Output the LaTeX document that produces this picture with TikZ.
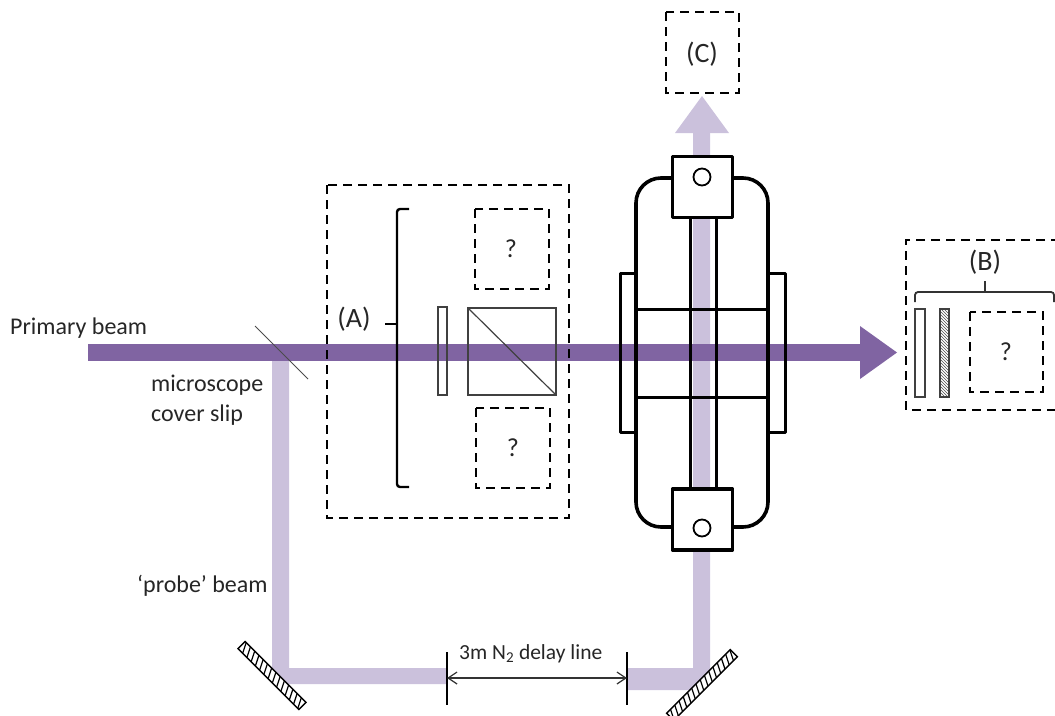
\documentclass[tikz,border=0pt]{standalone}
\usepackage{fontspec}
\setmainfont{Carlito}
\usetikzlibrary{arrows.meta,patterns}
\definecolor{primarybeam}{HTML}{8064A2}
\definecolor{probebeam}{HTML}{CBC1DC}
\tikzset{
  dashbox/.style={draw=black,line width=2.4pt,dash pattern=on 9pt off 6pt,line join=miter},
  thickline/.style={draw=black,line width=3.6pt,line join=round},
  flange/.style={draw=black,line width=3pt,line join=round},
  optic/.style={draw=black!75,line width=1.2pt},
  label/.style={font=\fontsize{24}{28}\selectfont,text=black!85,inner sep=0pt,anchor=base west},
  centrelabel/.style={font=\fontsize{28}{32}\selectfont,text=black!85,inner sep=0pt},
  qmark/.style={font=\fontsize{26}{30}\selectfont,text=black!85,inner sep=0pt},
  mirror/.style={draw=black,line width=1.4pt,fill=white},
  stripe/.style={draw=black,line width=1.2pt},
}
\begin{document}
\begin{tikzpicture}[x=1pt,y=-1pt]
\useasboundingbox (0,0) rectangle (1055,715);
% probe beam
\fill[probebeam] (272,361) -- (289,361) -- (289,668) -- (447,668) -- (447,684) -- (285,684) -- (272,670) -- cycle;
\fill[probebeam] (627,668) -- (693,668) -- (693,133) -- (710,133) -- (710,677) -- (697,690) -- (627,690) -- cycle;
\fill[probebeam] (702,96) -- (729,133) -- (675,133) -- cycle;
% interferometer body
\draw[flange] (636,273) -- (620,273) -- (620,432) -- (636,432);
\draw[flange] (768,273) -- (785,273) -- (785,432) -- (768,432);
\draw[thickline,rounded corners=25pt] (636,178) rectangle (768,527);
% primary beam
\fill[primarybeam] (88,344) rectangle (860,361);
\fill[primarybeam] (860,326) -- (897,352.5) -- (860,379) -- cycle;
% interferometer over beam
\draw[flange] (620,340) -- (620,365) (785,340) -- (785,365);
\draw[flange] (636,309) -- (768,309) (636,397) -- (768,397);
\draw[flange] (690,217) -- (690,489) (716,217) -- (716,489);
\draw[thickline] (636,230) -- (636,480) (768,230) -- (768,480);
\draw[thickline,fill=white] (672.5,156.5) rectangle (732.5,217.5);
\draw[thickline,fill=white] (672.5,489) rectangle (732.5,550);
\node[draw=black,line width=1.8pt,circle,minimum size=17pt,inner sep=0pt] (tophole) at (702,177) {};
\node[draw=black,line width=1.8pt,circle,minimum size=17pt,inner sep=0pt] (bottomhole) at (702,528) {};
% cover slip
\draw[draw=black!70,line width=1pt] (255,326) -- (308,379);
% (C)
\draw[dashbox] (666,12) rectangle (739,93);
\node[centrelabel] (lc) at (702,54) {(C)};
% (A)
\draw[dashbox] (327,185) rectangle (569,518);
\draw[dashbox] (475,209) rectangle (549,289);
\draw[dashbox] (476,408) rectangle (550,488);
\node[qmark] (q1) at (511,249) {?};
\node[qmark] (q2) at (513,448) {?};
\node[centrelabel] (la) at (354,319) {(A)};
\draw[line width=2.4pt,rounded corners=3pt] (409,209) -- (397,209) -- (397,487) -- (409,487);
\draw[line width=2.4pt] (385,324) -- (397,324);
\draw[optic] (438,307) rectangle (447,395);
\draw[optic] (468,308) rectangle (556,395);
\draw[optic] (468,308) -- (556,395);
% (B)
\draw[dashbox] (1060,240) -- (906,240) -- (906,410) -- (1060,410);
\draw[dashbox] (970,312) rectangle (1043,392);
\node[qmark] (q3) at (1006,352) {?};
\node[centrelabel] (lb) at (985,262) {(B)};
\draw[line width=1.8pt,draw=black!80,rounded corners=3pt] (915,302) -- (915,292) -- (1054,292) -- (1054,302);
\draw[line width=1.8pt,draw=black!80] (985,281) -- (985,292);
\draw[optic] (915,309) rectangle (925,397);
\fill[pattern=north west lines,pattern color=black!70] (940,309) rectangle (949,397);
\draw[optic] (940,309) rectangle (949,397);
% labels
\node[label] (primary) at (10,334) {Primary beam};
\node[label] (micro) at (151,391) {microscope};
\node[label] (cover) at (151,421) {cover slip};
\node[label] (probe) at (137,592) {‘probe’ beam};
\node[label,font=\fontsize{21.5}{25}\selectfont] (delay) at (459,659) {3m N\textsubscript{2} delay line};
% delay line
\coordinate (d1t) at (447,652);\coordinate (d1b) at (447,705);
\coordinate (d2t) at (627,652);\coordinate (d2b) at (627,705);
\draw[line width=2pt] (d1t) -- (d1b);
\draw[line width=2pt] (d2t) -- (d2b);
\coordinate (d1m) at (447,678);\coordinate (d2m) at (627,678);
\draw[{Straight Barb[length=9pt,width=12pt]}-{Straight Barb[length=9pt,width=12pt]},line width=1.2pt,draw=black!80] (d1m) -- (d2m);
% mirrors
\begin{scope}[shift={(272,675.5)},rotate=-45]
\draw[mirror] (-43,-5) rectangle (43,5);
\foreach \s in {-39,-33,...,39} \draw[stripe] (\s-2.5,-5) -- (\s+2.5,5);
\end{scope}
\begin{scope}[shift={(702,685)},rotate=45]
\draw[mirror] (-45,-5) rectangle (45,5);
\foreach \s in {-42,-36,...,42} \draw[stripe] (\s-2.5,5) -- (\s+2.5,-5);
\end{scope}
\end{tikzpicture}
\end{document}
